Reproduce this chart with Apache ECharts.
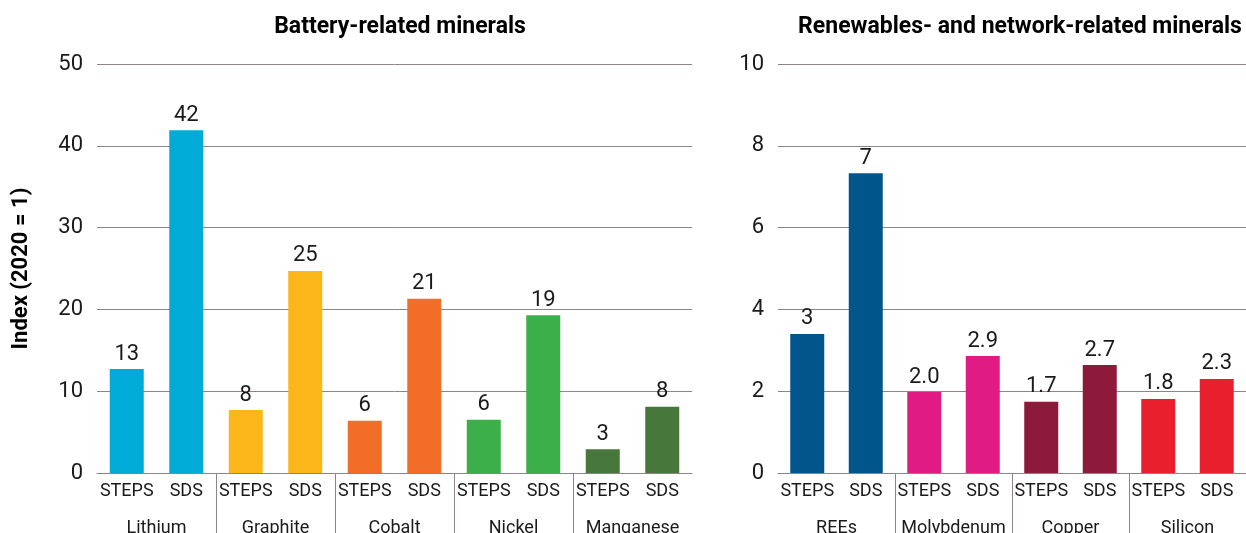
<!DOCTYPE html>
<html>
<head>
<meta charset="utf-8">
<script src="https://cdn.jsdelivr.net/npm/echarts@6/dist/echarts.min.js"></script>
<style>
html,body{margin:0;padding:0;background:#fff;}
#c{width:1246px;height:533px;}
</style>
</head>
<body>
<div id="c"></div>
<script>
const scenarios = ['STEPS', 'SDS'];
const batteryMinerals = ['Lithium', 'Graphite', 'Cobalt', 'Nickel', 'Manganese'];
const networkMinerals = ['REEs', 'Molybdenum', 'Copper', 'Silicon'];
const batteryValues = [12.7, 41.9, 7.7, 24.7, 6.4, 21.3, 6.5, 19.3, 2.9, 8.1];
const batteryLabels = ['13', '42', '8', '25', '6', '21', '6', '19', '3', '8'];
const networkValues = [3.4, 7.33, 1.98, 2.86, 1.74, 2.64, 1.81, 2.3];
const networkLabels = ['3', '7', '2.0', '2.9', '1.7', '2.7', '1.8', '2.3'];
const batteryColors = ['#00acd7', '#fbb619', '#f26e28', '#3daf4a', '#47773b'];
const networkColors = ['#00558a', '#e01c84', '#8d1a3a', '#ea1f2d'];
const leftTicks = [0, 10, 20, 30, 40, 50];
const rightTicks = [0, 2, 4, 6, 8, 10];

const FONT = 'Roboto';
const TXT = '#1a1a1a';
const GRID_COLOR = '#8c8487';

function scenarioCats(groups) {
  const out = [];
  groups.forEach(() => scenarios.forEach(s => out.push(s)));
  return out;
}
function barData(vals, colors) {
  return vals.map((v, i) => ({ value: v, itemStyle: { color: colors[Math.floor(i / 2)] } }));
}
function sepData(groups) {
  const out = [];
  for (let g = 0; g < groups.length - 1; g++) out.push([g * 2 + 1, 0]);
  return out;
}
function sepRender(params, api) {
  const p = api.coord([api.value(0), 0]);
  const w = api.size([1, 0])[0];
  const x = Math.round(p[0] + w / 2) + 0.5;
  return {
    type: 'line',
    shape: { x1: x, y1: p[1], x2: x, y2: p[1] + 62 },
    style: { stroke: GRID_COLOR, lineWidth: 1 }
  };
}

const yCommon = {
  type: 'value',
  splitLine: { show: true, lineStyle: { color: GRID_COLOR, width: 1 } },
  axisLine: { show: false },
  axisTick: { show: false },
  axisLabel: { color: TXT, fontFamily: FONT, fontSize: 22, margin: 14, padding: [0, 0, 5, 0] }
};
const catLabel = { color: TXT, fontFamily: FONT, fontSize: 18, margin: 9, interval: 0 };
const groupLabel = { color: TXT, fontFamily: FONT, fontSize: 18, margin: 0, interval: 0 };
const barLabel = (labels) => ({
  show: true, position: 'top', distance: 4, color: TXT, fontFamily: FONT, fontSize: 22,
  formatter: p => labels[p.dataIndex]
});

const chart = echarts.init(document.getElementById('c'), null, { renderer: 'canvas' });
chart.setOption({
  animation: false,
  backgroundColor: '#fff',
  title: [
    { text: 'Battery-related minerals', left: 395, top: 11, textAlign: 'center',
      textStyle: { fontFamily: FONT, fontSize: 23, fontWeight: 'bold', color: '#000' } },
    { text: 'Renewables- and network-related minerals', left: 1015, top: 11, textAlign: 'center',
      textStyle: { fontFamily: FONT, fontSize: 23, fontWeight: 'bold', color: '#000' } }
  ],
  grid: [
    { left: 97, right: 554, top: 64, bottom: 60, containLabel: false, outerBoundsMode: 'none' },
    { left: 778, right: 0, top: 64, bottom: 60, containLabel: false, outerBoundsMode: 'none' }
  ],
  xAxis: [
    { type: 'category', gridIndex: 0, data: scenarioCats(batteryMinerals),
      axisLine: { lineStyle: { color: GRID_COLOR } }, axisTick: { show: false }, axisLabel: catLabel },
    { type: 'category', gridIndex: 0, data: batteryMinerals, position: 'bottom', offset: 46,
      axisLine: { show: false }, axisTick: { show: false }, axisLabel: groupLabel },
    { type: 'category', gridIndex: 1, data: scenarioCats(networkMinerals),
      axisLine: { lineStyle: { color: GRID_COLOR } }, axisTick: { show: false }, axisLabel: catLabel },
    { type: 'category', gridIndex: 1, data: networkMinerals, position: 'bottom', offset: 46,
      axisLine: { show: false }, axisTick: { show: false }, axisLabel: groupLabel }
  ],
  yAxis: [
    Object.assign({}, yCommon, { gridIndex: 0, min: leftTicks[0], max: leftTicks[leftTicks.length - 1], interval: 10,
      name: 'Index (2020 = 1)', nameLocation: 'middle', nameGap: 65, nameRotate: 90,
      nameTextStyle: { fontFamily: FONT, fontSize: 22, fontWeight: 'bold', color: '#000' } }),
    Object.assign({}, yCommon, { gridIndex: 1, min: rightTicks[0], max: rightTicks[rightTicks.length - 1], interval: 2 })
  ],
  series: [
    { type: 'bar', xAxisIndex: 0, yAxisIndex: 0, barWidth: 34, data: barData(batteryValues, batteryColors),
      label: barLabel(batteryLabels) },
    { type: 'bar', xAxisIndex: 2, yAxisIndex: 1, barWidth: 34, data: barData(networkValues, networkColors),
      label: barLabel(networkLabels) },
    { type: 'custom', xAxisIndex: 0, yAxisIndex: 0, data: sepData(batteryMinerals), renderItem: sepRender,
      clip: false, silent: true, z: 5 },
    { type: 'custom', xAxisIndex: 2, yAxisIndex: 1, data: sepData(networkMinerals), renderItem: sepRender,
      clip: false, silent: true, z: 5 }
  ]
});
</script>
</body>
</html>
